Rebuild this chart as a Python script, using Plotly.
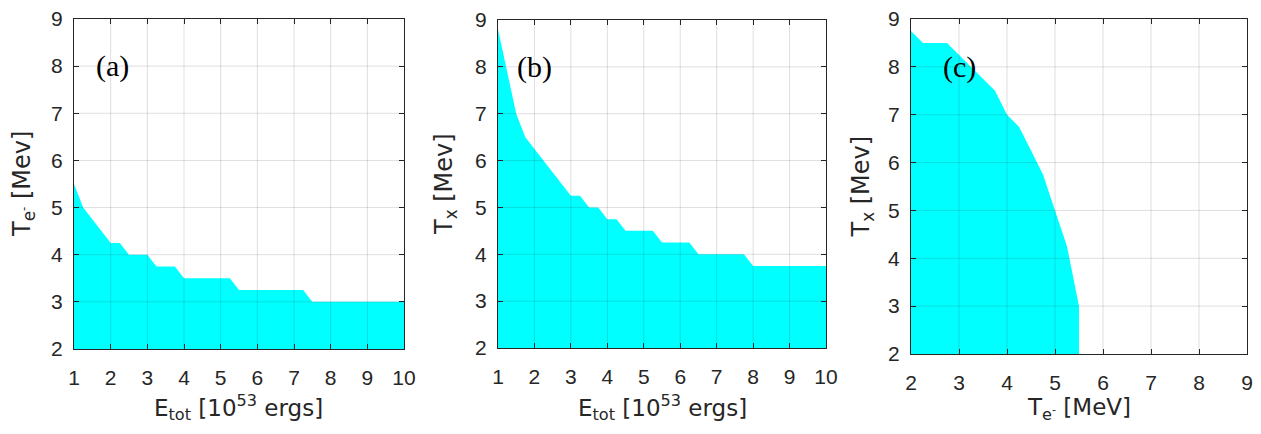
import plotly.graph_objects as go

# Panel (a): T_e- boundary vs E_tot
a_E = [1, 1.25, 2, 2.25, 2.5, 3, 3.25, 3.75, 4, 5.25, 5.5, 7.25, 7.5, 10]
a_T = [5.5, 5.0, 4.25, 4.25, 4.0, 4.0, 3.75, 3.75, 3.5, 3.5, 3.25, 3.25, 3.0, 3.0]

# Panel (b): T_x boundary vs E_tot
b_E = [1, 1.25, 1.5, 1.75, 3, 3.25, 3.5, 3.75, 4, 4.25, 4.5, 5.25, 5.5, 6.25, 6.5, 7.75, 8, 10]
b_T = [8.8, 7.9, 7.0, 6.5, 5.25, 5.25, 5.0, 5.0, 4.75, 4.75, 4.5, 4.5, 4.25, 4.25, 4.0, 4.0, 3.75, 3.75]

# Panel (c): T_x boundary vs T_e-
c_Te = [2, 2.25, 2.75, 3.75, 4, 4.25, 4.5, 4.75, 5, 5.25, 5.5, 5.5]
c_Tx = [8.75, 8.5, 8.5, 7.5, 7.0, 6.75, 6.25, 5.75, 5.0, 4.25, 3.0, 2.0]

E_ticks = [1, 2, 3, 4, 5, 6, 7, 8, 9, 10]
T_ticks = [2, 3, 4, 5, 6, 7, 8, 9]

panel_labels = ["(a)", "(b)", "(c)"]
label_pos = [(2.05, 8.0), (2.0, 8.0), (3.0, 8.0)]

xtitles = ["E<sub>tot</sub> [10<sup>53</sup> ergs]", "E<sub>tot</sub> [10<sup>53</sup> ergs]",
           "T<sub>e<sup>-</sup></sub> [MeV]"]
ytitles = ["T<sub>e<sup>-</sup></sub> [Mev]", "T<sub>x</sub> [Mev]", "T<sub>x</sub> [Mev]"]

PAD = 8  # default page body margin
W, H = 1261 - 2 * PAD, 434 - 2 * PAD
# pixel boxes of each plot area in the page (left, right, top, bottom)
boxes = [(74, 404, 19, 349), (498, 826, 20, 348), (911, 1247, 19, 354)]
ytitle_shift = [-51, -53, -49]

CYAN = "#00FFFF"
AX = "#262626"
GRID = "rgba(38,38,38,0.15)"
TICKFONT = "Liberation Sans, Arial, sans-serif"
TITLEFONT = "DejaVu Sans, sans-serif"

fig = go.Figure()

fig.add_trace(go.Scatter(x=a_E, y=a_T, fill="tozeroy", fillcolor=CYAN, mode="lines",
                         line=dict(width=0, color=CYAN), xaxis="x", yaxis="y", showlegend=False))
fig.add_trace(go.Scatter(x=b_E, y=b_T, fill="tozeroy", fillcolor=CYAN, mode="lines",
                         line=dict(width=0, color=CYAN), xaxis="x2", yaxis="y2", showlegend=False))
fig.add_trace(go.Scatter(x=c_Te, y=c_Tx, fill="tozeroy", fillcolor=CYAN, mode="lines",
                         line=dict(width=0, color=CYAN), xaxis="x3", yaxis="y3", showlegend=False))

xranges = [[1, 10], [1, 10], [2, 9]]
xtickvals = [E_ticks, E_ticks, T_ticks]

layout = dict(width=W, height=H, margin=dict(l=0, r=0, t=0, b=0),
              paper_bgcolor="white", plot_bgcolor="white",
              font=dict(family=TICKFONT, size=21, color=AX))

shapes = []
annotations = []
for i, (l, r, t, b) in enumerate(boxes):
    sfx = "" if i == 0 else str(i + 1)
    xd = [(l - PAD) / W, (r - PAD) / W]
    yd = [1 - (b - PAD) / H, 1 - (t - PAD) / H]
    common = dict(showline=True, linecolor=AX, linewidth=1, mirror="ticks", ticks="inside",
                  ticklen=5, tickcolor=AX, showgrid=False, zeroline=False, automargin=False,
                  layer="above traces", ticklabeloverflow="allow",
                  tickfont=dict(family=TICKFONT, size=21, color=AX))
    layout["xaxis" + sfx] = dict(domain=xd, range=xranges[i], tickvals=xtickvals[i],
                                 anchor="y" + sfx, ticklabelstandoff=10, **common)
    layout["yaxis" + sfx] = dict(domain=yd, range=[2, 9], tickvals=T_ticks,
                                 anchor="x" + sfx, ticklabelstandoff=6, **common)
    xr = "x" + sfx
    yr = "y" + sfx
    for v in xtickvals[i][1:-1]:
        shapes.append(dict(type="line", xref=xr, yref=yr, x0=v, x1=v, y0=2, y1=9,
                           line=dict(color=GRID, width=1), layer="above"))
    for v in T_ticks[1:-1]:
        shapes.append(dict(type="line", xref=xr, yref=yr, x0=xranges[i][0], x1=xranges[i][1],
                           y0=v, y1=v, line=dict(color=GRID, width=1), layer="above"))
    # axis titles
    annotations.append(dict(text=xtitles[i], x=0.5, y=0, xref=xr + " domain", yref="paper",
                            xanchor="center", yanchor="bottom",
                            showarrow=False, font=dict(family=TITLEFONT, size=23, color=AX)))
    annotations.append(dict(text=ytitles[i], x=0, y=0.5, xref=xr + " domain", yref=yr + " domain",
                            xanchor="center", yanchor="middle", xshift=ytitle_shift[i],
                            textangle=-90, showarrow=False,
                            font=dict(family=TITLEFONT, size=24, color=AX)))
    lx, ly = label_pos[i]
    annotations.append(dict(text=panel_labels[i], x=lx, y=ly, xref=xr, yref=yr, showarrow=False,
                            font=dict(family="Liberation Serif, Times New Roman, serif",
                                      size=30, color="black")))

layout["shapes"] = shapes
layout["annotations"] = annotations
fig.update_layout(**layout)

fig.write_html("out.html")
